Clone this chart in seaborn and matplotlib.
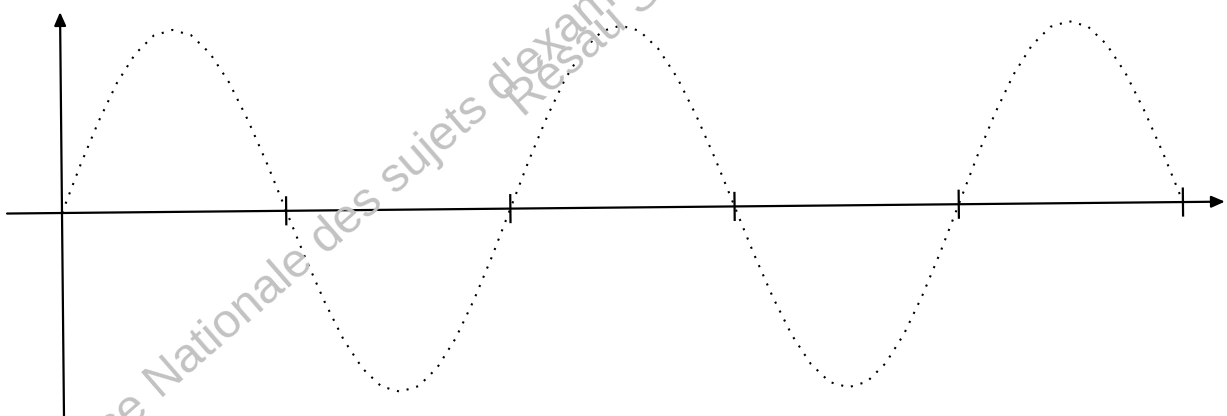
import matplotlib
matplotlib.use("Agg")
import matplotlib.pyplot as plt
from matplotlib.transforms import Affine2D
import numpy as np
import seaborn as sns

# ---- data ----
# abscissa of the curve samples (one period = 2 tick units)
curve_x = [i / 12 for i in range(61)]
curve_y = [0.00, 0.26, 0.50, 0.71, 0.87, 0.97, 1.00, 0.97, 0.87, 0.71, 0.50, 0.26,
           0.00, -0.26, -0.50, -0.71, -0.87, -0.97, -1.00, -0.97, -0.87, -0.71, -0.50, -0.26,
           0.00, 0.26, 0.50, 0.71, 0.87, 0.97, 1.00, 0.97, 0.87, 0.71, 0.50, 0.26,
           0.00, -0.26, -0.50, -0.71, -0.87, -0.97, -1.00, -0.97, -0.87, -0.71, -0.50, -0.26,
           0.00, 0.26, 0.50, 0.71, 0.87, 0.97, 1.00, 0.97, 0.87, 0.71, 0.50, 0.26,
           0.00]
tick_x = [1, 2, 3, 4, 5]
watermark_1a = "Base"
watermark_1b = "Nationale des sujets d'examens"
watermark_2 = "Résau SCÉRÉN"

sns.set_style("white")
plt.rcParams['font.family'] = ['Liberation Sans', 'DejaVu Sans']

W, H = 1227, 416
fig = plt.figure(figsize=(W / 100, H / 100), dpi=100)
fig.patch.set_facecolor("white")

# watermark (behind)
wm_color = "#c2c2c2"
ANG = 41
FS = 35
c, s_ = np.cos(np.radians(ANG)), np.sin(np.radians(ANG))
em = FS * 100 / 72
space = 0.278 * em

# "N" of "Nationale" at image pixel (160, 399)
nx, ny = 160, H - 399
wm = dict(rotation=ANG, rotation_mode='anchor', va='baseline', fontsize=FS,
          color=wm_color, zorder=0)
fig.text(nx / W, ny / H, watermark_1b, ha='left', **wm)
fig.text((nx - space * c) / W, (ny - space * s_) / H, watermark_1a, ha='right', **wm)
# line 2: "R" at image pixel (523, 118)
fig.text(523 / W, (H - 118) / H, watermark_2, ha='left', **wm)

ax = fig.add_axes([0, 0, 1, 1])
ax.patch.set_alpha(0)
ax.set_xlim(-62 / 224.2, (W - 62) / 224.2)
ax.set_ylim(-203 / 182, (H - 203) / 182)
ax.axis('off')

# slight scan tilt
tilt = ax.transData + Affine2D().rotate_deg_around(62, 203, 0.56)

# dotted curve
sns.lineplot(x=curve_x, y=curve_y, ax=ax, color='black', lw=1.5, sort=False)
line = ax.lines[-1]
line.set_dashes((1, 3.8))
line.set_transform(tilt)

# axes with arrows
arrow = dict(arrowstyle='-|>,head_length=0.8,head_width=0.35', lw=1.6,
             color='black', shrinkA=0, shrinkB=0)
ax.annotate('', xy=(5.187, 0), xytext=(-0.245, 0), xycoords=tilt,
            textcoords=tilt, arrowprops=arrow)
ax.annotate('', xy=(0, 1.104), xytext=(0, -1.2), xycoords=tilt,
            textcoords=tilt, arrowprops=arrow)

# tick marks
ax.vlines(tick_x, -0.08, 0.08, colors='black', lw=1.6, transform=tilt)

fig.savefig("out.png", dpi=100)
